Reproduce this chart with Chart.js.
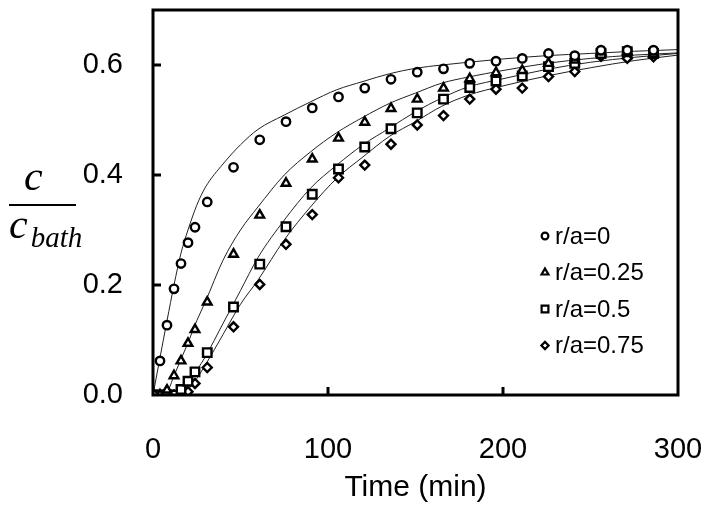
<!DOCTYPE html>
<html>
<head>
<meta charset="utf-8">
<script src="https://cdn.jsdelivr.net/npm/chart.js@4/dist/chart.umd.min.js"></script>
<style>
  body { margin: 0; background: #fff; }
  #wrap { position: relative; width: 712px; height: 510px; }
  .ylab { position: absolute; font-family: 'Liberation Serif', 'Times New Roman', serif; font-style: italic; color: #000; }
  #bar { position: absolute; left: 9px; top: 204px; width: 67px; height: 2px; background: #000; }
</style>
</head>
<body>
<div id="wrap">
  <canvas id="chart" width="712" height="510"></canvas>
  <div class="ylab" style="left:24px; top:152px; font-size:42px;">c</div>
  <div id="bar"></div>
  <div class="ylab" style="left:9px; top:200px; font-size:42px;">c<span style="font-size:29px; position:relative; top:9px; margin-left:3px;">bath</span></div>
</div>
<script>
// measured points (min)
const obsTime = [0, 4, 8, 12, 16, 20, 24, 31, 46, 61, 76, 91, 106, 121, 136, 151, 166, 181, 196, 211, 226, 241, 256, 271, 286];
const obsR0 = [0, 0.062, 0.127, 0.193, 0.239, 0.277, 0.305, 0.351, 0.414, 0.464, 0.497, 0.522, 0.542, 0.558, 0.574, 0.587, 0.593, 0.603, 0.607, 0.612, 0.621, 0.617, 0.627, 0.627, 0.627];
const obsR25 = [0, 0, 0.009, 0.035, 0.062, 0.094, 0.119, 0.169, 0.256, 0.327, 0.385, 0.429, 0.467, 0.496, 0.521, 0.538, 0.558, 0.575, 0.586, 0.590, 0.603, 0.609, 0.624, 0.624, 0.620];
const obsR50 = [0, 0, 0, 0, 0.010, 0.025, 0.042, 0.077, 0.160, 0.238, 0.306, 0.365, 0.411, 0.451, 0.484, 0.513, 0.538, 0.559, 0.571, 0.580, 0.597, 0.603, 0.621, 0.624, 0.621];
const obsR75 = [0, 0, 0, 0, 0, 0.006, 0.021, 0.050, 0.124, 0.201, 0.274, 0.328, 0.395, 0.418, 0.456, 0.491, 0.508, 0.538, 0.556, 0.558, 0.579, 0.588, 0.616, 0.612, 0.615];

// model curves
const fitTime = [0, 4, 8, 12, 16, 20, 25, 30, 40, 50, 60, 75, 90, 105, 120, 135, 150, 165, 180, 200, 225, 250, 275, 300];
const fitR0 = [0, 0.068, 0.135, 0.2, 0.258, 0.3, 0.345, 0.378, 0.42, 0.455, 0.483, 0.509, 0.533, 0.555, 0.570, 0.584, 0.594, 0.600, 0.605, 0.611, 0.617, 0.621, 0.625, 0.628];
const fitR25 = [0, 0, 0.005, 0.035, 0.065, 0.095, 0.135, 0.17, 0.245, 0.3, 0.342, 0.40, 0.442, 0.477, 0.505, 0.530, 0.549, 0.567, 0.578, 0.590, 0.603, 0.612, 0.618, 0.622];
const fitR50 = [0, 0, 0, 0, 0.008, 0.02, 0.045, 0.07, 0.13, 0.19, 0.25, 0.318, 0.376, 0.418, 0.455, 0.485, 0.515, 0.540, 0.560, 0.575, 0.592, 0.605, 0.614, 0.621];
const fitR75 = [0, 0, 0, 0, 0.002, 0.01, 0.03, 0.055, 0.11, 0.165, 0.209, 0.282, 0.342, 0.394, 0.433, 0.47, 0.497, 0.525, 0.545, 0.562, 0.580, 0.595, 0.608, 0.618];

const seriesNames = ['r/a=0', 'r/a=0.25', 'r/a=0.5', 'r/a=0.75'];
const xTicks = [0, 100, 200, 300];
const yTicks = [0, 0.2, 0.4, 0.6];

const FONT = "'Liberation Sans', Arial, sans-serif";
const pts = (xs, ys) => xs.map((x, i) => ({ x: x, y: ys[i] }));

const markerStyles = [
  { style: 'circle', r: 4.2 },
  { style: 'triangle', r: 5 },
  { style: 'rect', r: 6 },
  { style: 'rectRot', r: 4.5 }
];
const obsSets = [obsR0, obsR25, obsR50, obsR75];
const fitSets = [fitR0, fitR25, fitR50, fitR75];

const datasets = [];
obsSets.forEach((ys, i) => {
  datasets.push({
    label: seriesNames[i],
    data: pts(obsTime, ys),
    showLine: false,
    pointStyle: markerStyles[i].style,
    pointRadius: markerStyles[i].r,
    pointBorderWidth: 2.4,
    pointBorderColor: '#000',
    pointBackgroundColor: '#fff'
  });
});
fitSets.forEach((ys, i) => {
  datasets.push({
    label: seriesNames[i] + ' fit',
    data: pts(fitTime, ys),
    showLine: true,
    borderColor: '#222',
    borderWidth: 1,
    pointRadius: 0,
    cubicInterpolationMode: 'monotone'
  });
});

// frame, inward ticks and legend inside the plot
const decor = {
  id: 'decor',
  afterDraw(chart) {
    const ctx = chart.ctx;
    const a = chart.chartArea;
    const xs = chart.scales.x, ys = chart.scales.y;
    ctx.save();
    ctx.strokeStyle = '#000';
    ctx.lineWidth = 3;
    ctx.strokeRect(a.left, a.top, a.right - a.left, a.bottom - a.top);
    xTicks.slice(1, -1).forEach(v => {
      const p = xs.getPixelForValue(v);
      ctx.beginPath(); ctx.moveTo(p, a.bottom); ctx.lineTo(p, a.bottom - 8); ctx.stroke();
    });
    yTicks.slice(1).forEach(v => {
      const p = ys.getPixelForValue(v);
      ctx.beginPath(); ctx.moveTo(a.left, p); ctx.lineTo(a.left + 8, p); ctx.stroke();
    });
    // legend
    ctx.font = '24px ' + FONT;
    ctx.textBaseline = 'middle';
    seriesNames.forEach((name, i) => {
      const y = 236 + i * 36.5;
      const x = 545;
      ctx.lineWidth = 2.2;
      ctx.fillStyle = '#fff';
      Chart.helpers.drawPoint(ctx, { pointStyle: markerStyles[i].style, radius: markerStyles[i].r * 0.8, borderWidth: 2.2 }, x, y);
      ctx.fillStyle = '#000';
      ctx.fillText(name, x + 10, y + 1);
    });
    ctx.restore();
  }
};

new Chart(document.getElementById('chart'), {
  type: 'scatter',
  data: { datasets: datasets },
  plugins: [decor],
  options: {
    responsive: false,
    animation: false,
    layout: { padding: { top: 10, right: 34, left: 0, bottom: 0 } },
    plugins: { legend: { display: false }, tooltip: { enabled: false } },
    scales: {
      x: {
        type: 'linear', min: 0, max: 300,
        grid: { display: false, drawTicks: false },
        border: { display: false },
        afterBuildTicks: s => { s.ticks = xTicks.map(v => ({ value: v })); },
        afterFit: s => { s.height = 115; s.paddingLeft = 0; s.paddingRight = 0; },
        ticks: { color: '#000', font: { family: FONT, size: 29 }, padding: 38, maxRotation: 0 },
        title: { display: true, text: 'Time (min)', color: '#000', font: { family: FONT, size: 30 }, padding: { top: 1 } }
      },
      y: {
        type: 'linear', min: 0, max: 0.7,
        grid: { display: false, drawTicks: false },
        border: { display: false },
        afterBuildTicks: s => { s.ticks = yTicks.map(v => ({ value: v })); },
        afterFit: s => { s.width = 153; s.paddingTop = 0; s.paddingBottom = 0; },
        ticks: { color: '#000', font: { family: FONT, size: 29 }, padding: 30, callback: v => v.toFixed(1) }
      }
    }
  }
});
</script>
</body>
</html>
